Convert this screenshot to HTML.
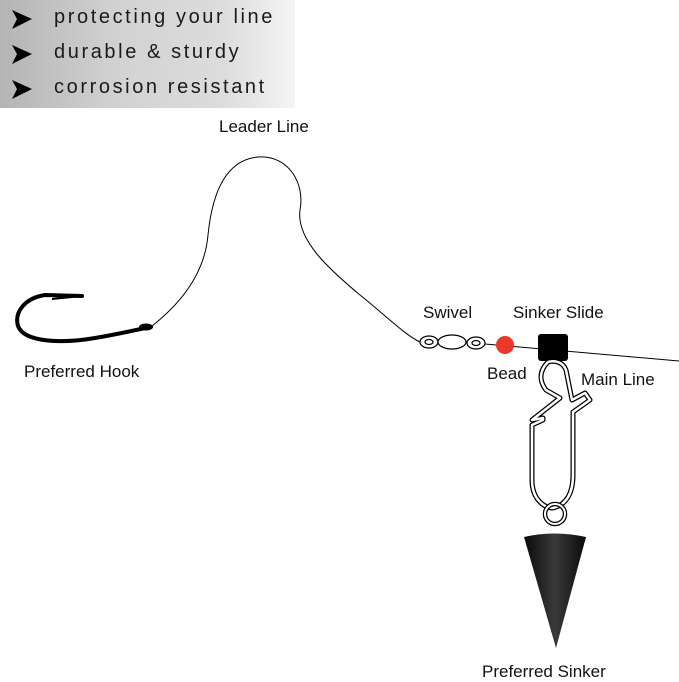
<!DOCTYPE html>
<html><head><style>
body{margin:0;width:679px;height:680px;background:#fff;position:relative;overflow:hidden;font-family:"Liberation Sans",sans-serif}
.ban{position:absolute;left:0;top:0;width:295px;height:108px;background:linear-gradient(90deg,#b4b4b4 0%,#d2d2d2 40%,#dcdcdc 75%,#f4f4f4 100%)}
.ban div{position:absolute;left:54px;font-size:20px;letter-spacing:2.6px;color:#1a1a1a}
.t{position:absolute;font-size:17px;color:#111}
</style></head><body>
<div class="ban">
<div style="top:6px">protecting your line</div>
<div style="top:41px">durable &amp; sturdy</div>
<div style="top:76px">corrosion resistant</div>
<svg width="40" height="108" style="position:absolute;left:0;top:0">
<polygon points="12,10 32,19 12,29 17,19" fill="#000"/>
<polygon points="12,45 32,54 12,64 17,54" fill="#000"/>
<polygon points="12,80 32,89 12,99 17,89" fill="#000"/>
</svg>
</div>
<div class="t" style="left:219px;top:117px">Leader Line</div>
<div class="t" style="left:24px;top:362px">Preferred Hook</div>
<div class="t" style="left:423px;top:303px">Swivel</div>
<div class="t" style="left:513px;top:303px">Sinker Slide</div>
<div class="t" style="left:487px;top:364px">Bead</div>
<div class="t" style="left:581px;top:370px">Main Line</div>
<div class="t" style="left:482px;top:662px">Preferred Sinker</div>
<svg width="679" height="680" style="position:absolute;left:0;top:0">
<defs><linearGradient id="g" x1="0" x2="1"><stop offset="0" stop-color="#0a0a0a"/><stop offset="0.5" stop-color="#3a3a3a"/><stop offset="1" stop-color="#0a0a0a"/></linearGradient></defs>
<path d="M152,326 C185,300 205,270 208,235 C212,195 225,160 258,157 C290,155 305,185 300,210 C296,240 330,270 360,295 C385,315 405,335 420,342" fill="none" stroke="#000" stroke-width="1"/>
<path d="M82,296 L45,295 C25,298 14,312 18,326 C24,342 60,344 95,338 C120,334 135,330 150,327" fill="none" stroke="#000" stroke-width="4" stroke-linecap="round"/>
<path d="M82,296 L52,299" stroke="#000" stroke-width="2"/>
<ellipse cx="146" cy="327" rx="7" ry="3.5" fill="#000"/>
<g fill="none" stroke="#000" stroke-width="1.2">
<ellipse cx="429" cy="342" rx="9" ry="6"/><ellipse cx="429" cy="342" rx="4" ry="2.5"/>
<ellipse cx="452" cy="342" rx="14" ry="7"/>
<ellipse cx="476" cy="343" rx="9" ry="6"/><ellipse cx="476" cy="343" rx="4" ry="2.5"/>
</g>
<line x1="485" y1="344" x2="679" y2="361" stroke="#000"/>
<circle cx="505" cy="345" r="9" fill="#e8392a"/>
<rect x="538" y="334" width="30" height="27" rx="3" fill="#000"/>
<g fill="none" stroke="#000" stroke-width="5" stroke-linejoin="round"><path d="M548,362 C538,372 540,382 546,390 L560,398 L532,420 L543,418 L543,420 L532,425 L532,480 C532,500 545,508 553,508 C565,505 573,495 573,475 L573,412 L590,400 L585,393 L572,400 L566,370 C563,362 555,360 548,362"/></g>
<g fill="none" stroke="#fff" stroke-width="2.5" stroke-linejoin="round"><path d="M548,362 C538,372 540,382 546,390 L560,398 L532,420 L543,418 L543,420 L532,425 L532,480 C532,500 545,508 553,508 C565,505 573,495 573,475 L573,412 L590,400 L585,393 L572,400 L566,370 C563,362 555,360 548,362"/></g>
<circle cx="555" cy="514" r="10" fill="none" stroke="#000" stroke-width="4.5"/>
<circle cx="555" cy="514" r="10" fill="none" stroke="#fff" stroke-width="2"/>
<path d="M524,537 Q554,530 586,537 L556,648 Z" fill="url(#g)"/>
</svg>
</body></html>
